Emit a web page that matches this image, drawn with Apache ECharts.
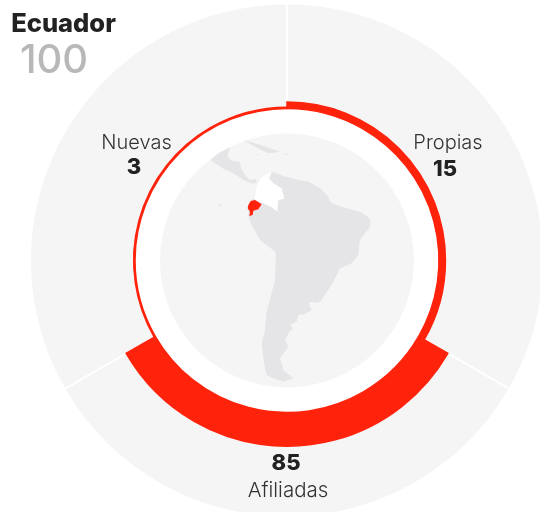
<!DOCTYPE html>
<html><head><meta charset="utf-8">
<style>html,body{margin:0;padding:0;background:#fff}#c{width:540px;height:512px}</style>
<script src="https://cdn.jsdelivr.net/npm/echarts@6/dist/echarts.min.js"></script>
</head><body><div id="c"></div>
<script>
const country = 'Ecuador';
const total = 100;
const categories = ['Propias', 'Afiliadas', 'Nuevas'];
const values = [15, 85, 3];

// Land outlines (traced on a 3x grid, see toPage)
const landSouthAmerica = [[365,155],[400,168],[445,180],[475,185],[510,205],[535,230],[540,245],[560,255],[590,265],[630,275],[655,292],[662,305],[658,325],[640,345],[630,360],[625,405],[605,430],[570,445],[555,475],[550,487],[515,540],[505,548],[475,545],[485,570],[465,582],[445,585],[440,605],[420,615],[430,625],[418,635],[405,660],[415,680],[390,715],[400,750],[430,775],[400,785],[370,775],[350,765],[345,745],[340,710],[335,670],[345,630],[350,575],[370,500],[375,480],[378,400],[372,392],[330,360],[300,305],[295,285],[297,262],[318,215],[320,190],[335,170]];
const landCentralAmerica = [[181,120],[205,100],[240,82],[232,108],[245,123],[268,125],[275,150],[297,180],[318,177],[320,190],[305,190],[285,182],[250,160],[220,146]];
const landCuba = [[280,60],[315,70],[360,85],[390,95],[355,100],[315,80]];
const landHispaniola = [[400,100],[415,102],[410,105]];
const landJamaica = [[318,102],[328,102],[324,105]];
const landGalapagos = [[208,252],[215,252],[213,260],[208,258]];
const colombia = [[320,192],[335,170],[365,155],[358,175],[370,190],[395,205],[403,237],[385,240],[382,275],[365,262],[340,250],[322,243],[310,235],[318,215]];
const ecuador = [[295,255],[302,243],[315,240],[335,253],[325,268],[310,272],[308,285],[298,288],[300,275],[293,265]];

const toPage = ([x, y]) => [150 + x / 3, 120 + y / 3];
const shapes = [
  ['Sudamerica', landSouthAmerica], ['Centroamerica', landCentralAmerica], ['Cuba', landCuba],
  ['Hispaniola', landHispaniola], ['Jamaica', landJamaica], ['Galapagos', landGalapagos],
  ['Colombia', colombia], ['Ecuador', ecuador]
];
const features = shapes.map(([name, pts]) => {
  const ring = pts.map(toPage); ring.push(ring[0]);
  return {type: 'Feature', properties: {name}, geometry: {type: 'Polygon', coordinates: [ring]}};
});
echarts.registerMap('region', {type: 'FeatureCollection', features});
const all = shapes.flatMap(s => s[1].map(toPage));
const minX = Math.min(...all.map(p => p[0])), maxX = Math.max(...all.map(p => p[0]));
const minY = Math.min(...all.map(p => p[1])), maxY = Math.max(...all.map(p => p[1]));

const cx = 287, cy = 260.5, rOuter = 257, rInner = 152, rDisc = 127;
const pxPerUnitArea = 134;
// Ring thickness is area-proportional
const thickness = v => Math.sqrt(rInner * rInner + pxPerUnitArea * v) - rInner;

const RED = '#ff230c', FONT = 'Inter, Lato, sans-serif';
const text = (t, x, y, size, weight, fill) => ({
  type: 'text', z: 100, x, y,
  style: {text: String(t), fontFamily: FONT, fontSize: size, fontWeight: weight, fill, align: 'center', verticalAlign: 'middle'}
});
const disc = (r, color, z) => ({
  type: 'pie', silent: true, z, center: [cx, cy], radius: [0, r], label: {show: false}, labelLine: {show: false},
  itemStyle: {color}, data: [1], animation: false
});

const chart = echarts.init(document.getElementById('c'), null, {renderer: 'canvas'});
chart.setOption({
  animation: false,
  polar: {center: [cx, cy], radius: [rInner, rOuter]},
  angleAxis: {type: 'category', data: categories, startAngle: 90, show: false},
  radiusAxis: {type: 'value', min: 0, max: rOuter - rInner, show: false},
  geo: {
    map: 'region', silent: true, z: 4, roam: false,
    projection: {project: p => p, unproject: p => p},
    left: minX, top: minY, width: maxX - minX, height: maxY - minY,
    label: {show: false},
    itemStyle: {areaColor: '#e5e4e6', borderWidth: 0},
    regions: [
      {name: 'Colombia', itemStyle: {areaColor: '#ffffff', borderWidth: 0}},
      {name: 'Ecuador', itemStyle: {areaColor: RED, borderWidth: 0}}
    ]
  },
  series: [
    {
      type: 'pie', silent: true, z: 1, center: [cx, cy], radius: [0, rOuter], startAngle: 90,
      label: {show: false}, labelLine: {show: false},
      itemStyle: {color: '#f5f5f5', borderColor: '#fff', borderWidth: 2},
      data: [1, 1, 1]
    },
    disc(rInner, '#ffffff', 2),
    disc(rDisc, '#f5f5f5', 3),
    {
      type: 'bar', coordinateSystem: 'polar', z: 6, silent: true,
      barCategoryGap: '0%',
      itemStyle: {color: RED, borderColor: RED, borderWidth: 1.5},
      data: values.map(thickness)
    }
  ],
  graphic: [
    text(country, 63.5, 24, 25.5, 800, '#222222'),
    text(total, 54, 60.5, 40, 500, '#b8b8b8'),
    text(categories[2], 136.5, 143, 20, 300, '#333333'),
    text(values[2], 134, 167, 22, 800, '#222222'),
    text(categories[0], 448, 143, 20, 300, '#333333'),
    text(values[0], 445, 169, 22, 800, '#222222'),
    text(values[1], 286, 463, 22, 800, '#222222'),
    text(categories[1], 288, 491, 20.5, 300, '#333333')
  ]
});
</script></body></html>
